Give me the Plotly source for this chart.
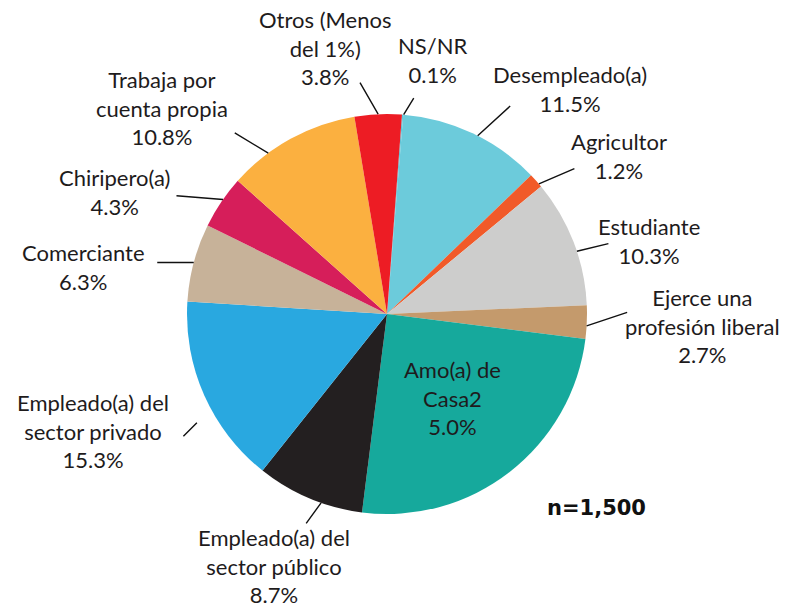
import math
import plotly.graph_objects as go

# ---- data ----
labels = ["NS/NR", "Desempleado(a)", "Agricultor", "Estudiante",
          "Ejerce una profesión liberal", "Amo(a) de Casa",
          "Empleado(a) del sector público", "Empleado(a) del sector privado",
          "Comerciante", "Chiripero(a)", "Trabaja por cuenta propia",
          "Otros (Menos del 1%)"]
values = [0.1, 11.5, 1.2, 10.3, 2.7, 25.0, 8.7, 15.3, 6.3, 4.3, 10.8, 3.8]
label_texts = ["NS/NR<br>0.1%", "Desempleado(a)<br>11.5%", "Agricultor<br>1.2%",
               "Estudiante<br>10.3%", "Ejerce una<br>profesión liberal<br>2.7%",
               "Amo(a) de<br>Casa2<br>5.0%", "Empleado(a) del<br>sector público<br>8.7%",
               "Empleado(a) del<br>sector privado<br>15.3%", "Comerciante<br>6.3%",
               "Chiripero(a)<br>4.3%", "Trabaja por<br>cuenta propia<br>10.8%",
               "Otros (Menos<br>del 1%)<br>3.8%"]
colors = ["#5FC3D6", "#6CCBDB", "#F15A29", "#CDCDCC", "#C49A6C", "#16A99C",
          "#231F20", "#29A8E0", "#C7B299", "#D61E5A", "#FBB040", "#ED1C24"]
sample_note = "n=1,500"

# ---- layout / styling ----
OFF = 8                      # page body margin offset
W, H = 787 - OFF, 606 - OFF  # figure size
CX, CY, R = 387 - OFF, 314 - OFF, 200
ROT = 4.3
FONT = "Lato"
TXT = "#1E1B1C"
FS = 22

# label block centres (screen pixels) and leader-line styling
label_pos = [(432, 60), (570, 89), (619, 156), (649, 241), (702, 326), (452, 398),
             (274, 566), (93, 431), (83, 267), (114, 192), (162, 108), (325, 48)]
leader = [(11, -18), (34, -31), (37, -16), (33, -8), (42, -14), None,
          (-16, 22), (-15, 15), (-38, 0), (-48, -4), (-35, -21), (-19, -33)]
leader_r = [1, 1, 1, 1, 1, 1, 1, 1.095, 1, 1, 1, 1]
leader_nudge = [0.3, 1.6, 1.2, 2.8, 1.1, 0, -3.6, -5.8, 0, 0.9, -7.6, 0]

fig = go.Figure(go.Pie(
    labels=labels, values=values, sort=False, direction="clockwise",
    rotation=ROT, marker=dict(colors=colors, line=dict(width=0)),
    textinfo="none", hoverinfo="label+percent", showlegend=False,
    domain=dict(x=[(CX - R) / W, (CX + R) / W], y=[1 - (CY + R) / H, 1 - (CY - R) / H]),
))

total = sum(values)
cum = 0.0
annotations = []
for i, v in enumerate(values):
    mid = math.radians(ROT + (cum + v / 2) / total * 360 + leader_nudge[i])
    cum += v
    lx, ly = label_pos[i][0] - OFF, label_pos[i][1] - OFF
    annotations.append(dict(
        x=lx / W, y=1 - ly / H, xref="paper", yref="paper", text=label_texts[i],
        showarrow=False, xanchor="center", yanchor="middle",
        font=dict(family=FONT, size=FS, color=TXT)))
    if leader[i] is not None:
        rr = R * leader_r[i]
        px = CX + rr * math.sin(mid)
        py = CY - rr * math.cos(mid)
        annotations.append(dict(
            x=px / W, y=1 - py / H, xref="paper", yref="paper", text="",
            showarrow=True, arrowhead=0, arrowwidth=1.4, arrowcolor="#111111",
            ax=leader[i][0], ay=leader[i][1], standoff=0, startstandoff=0))

annotations.append(dict(
    x=(596 - OFF) / W, y=1 - (508 - OFF) / H, xref="paper", yref="paper",
    text="<b>" + sample_note + "</b>",
    showarrow=False, xanchor="center", yanchor="middle",
    font=dict(family="DejaVu Sans", size=21, color="#111111")))

fig.update_layout(
    width=W, height=H, margin=dict(l=0, r=0, t=0, b=0),
    paper_bgcolor="white", plot_bgcolor="white",
    annotations=annotations,
)

fig.write_html("out.html")
